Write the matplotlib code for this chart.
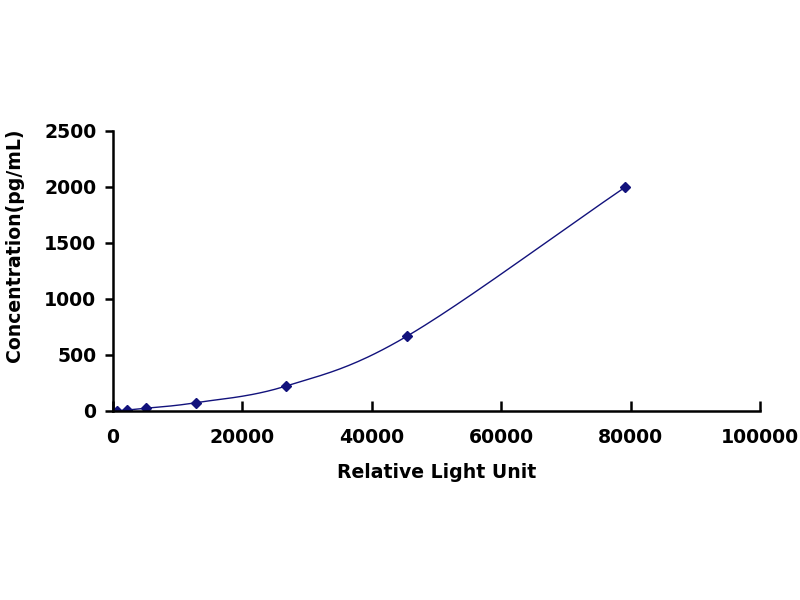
import numpy as np
import matplotlib
matplotlib.use("Agg")
import matplotlib.pyplot as plt

# Standardkurve
rlu = [620, 2160, 5100, 12800, 26700, 45400, 79200]
conc = [0, 8.2, 24.7, 74.1, 222.2, 666.7, 2000]

x_ticks = [0, 20000, 40000, 60000, 80000, 100000]
y_ticks = [0, 500, 1000, 1500, 2000, 2500]

navy = "#12127c"


def smooth(xs, ys, n=40):
    # Catmull-Rom Glättung wie bei Excel "geglättete Linie"
    xs = np.asarray(xs, float)
    ys = np.asarray(ys, float)
    px = np.concatenate([[2 * xs[0] - xs[1]], xs, [2 * xs[-1] - xs[-2]]])
    py = np.concatenate([[2 * ys[0] - ys[1]], ys, [2 * ys[-1] - ys[-2]]])
    ox, oy = [], []
    t = np.linspace(0, 1, n)
    for i in range(1, len(px) - 2):
        p0x, p1x, p2x, p3x = px[i - 1:i + 3]
        p0y, p1y, p2y, p3y = py[i - 1:i + 3]
        c1x = p1x + (p2x - p0x) / 6
        c1y = p1y + (p2y - p0y) / 6
        c2x = p2x - (p3x - p1x) / 6
        c2y = p2y - (p3y - p1y) / 6
        bx = (1 - t) ** 3 * p1x + 3 * (1 - t) ** 2 * t * c1x + 3 * (1 - t) * t ** 2 * c2x + t ** 3 * p2x
        by = (1 - t) ** 3 * p1y + 3 * (1 - t) ** 2 * t * c1y + 3 * (1 - t) * t ** 2 * c2y + t ** 3 * p2y
        ox.extend(bx)
        oy.extend(by)
    return np.array(ox), np.array(oy)


plt.rcParams['font.family'] = ['DejaVu Sans']
fs = 13.6

fig = plt.figure(figsize=(8, 6), dpi=100)
ax = fig.add_axes([113 / 800, 1 - 411 / 600, (760 - 113) / 800, (411 - 131) / 600])

sx, sy = smooth(rlu, conc)
ax.plot(sx, sy, color=navy, linewidth=1.0)
ax.plot(rlu, conc, linestyle="none", marker="D", markersize=5, color=navy)

ax.set_xlim(0, 100000)
ax.set_ylim(0, 2500)
ax.set_xticks(x_ticks)
ax.set_yticks(y_ticks)

for s in ["top", "right"]:
    ax.spines[s].set_visible(False)
for s in ["left", "bottom"]:
    ax.spines[s].set_linewidth(1.8)
    ax.spines[s].set_color("black")

ax.tick_params(axis="x", direction="in", length=7, width=1.8, pad=12, labelsize=fs)
ax.tick_params(axis="y", direction="out", length=6, width=1.8, pad=6, labelsize=fs)
for lbl in ax.get_xticklabels() + ax.get_yticklabels():
    lbl.set_fontweight("bold")

ax.set_xlabel("Relative Light Unit", fontsize=fs, fontweight="bold", labelpad=12)
fig.text(15 / 800, 1 - 245 / 600, "Concentration(pg/mL)", rotation=90,
         ha="center", va="center", fontsize=fs, fontweight="bold")

fig.savefig("out.png", dpi=100)
